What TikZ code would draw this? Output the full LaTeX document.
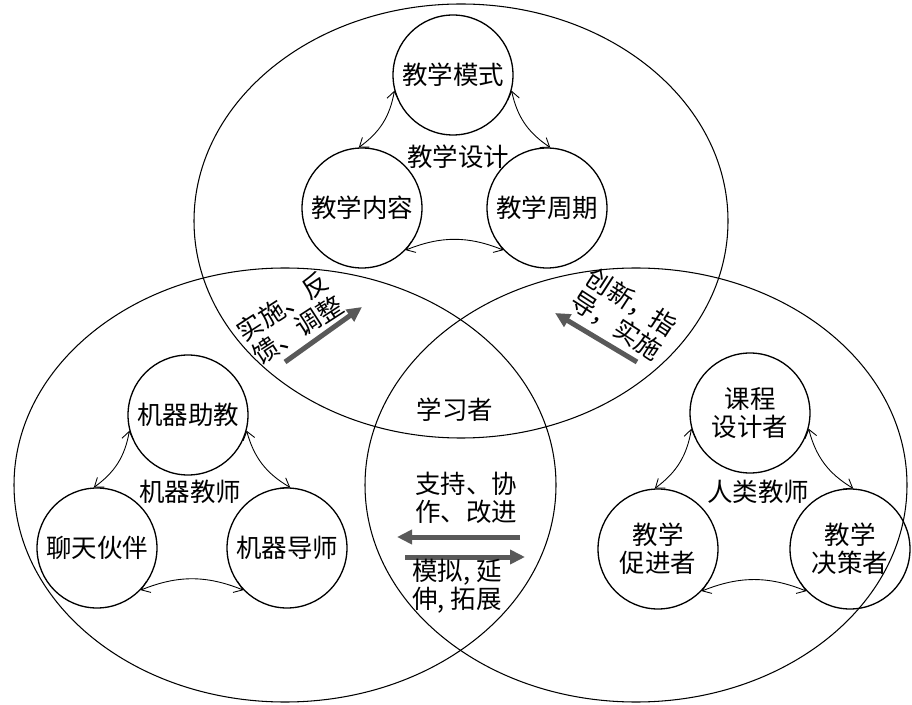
\documentclass[tikz,border=0pt]{standalone}
\usepackage{fontspec}
\newfontfamily\cjk{Noto Sans CJK SC}
\usetikzlibrary{arrows.meta}

\begin{document}
\begin{tikzpicture}[x=0.02cm,y=-0.02cm,
  font=\cjk\fontsize{14.5}{16}\selectfont,
  role/.style={draw,circle,line width=0.75pt,minimum size=2.4cm,inner sep=0pt,align=center},
  link/.style={{Straight Barb[length=1.6mm,width=2.4mm]}-{Straight Barb[length=1.6mm,width=2.4mm]},line width=0.5pt},
  flow/.style={-{Triangle[length=3mm,width=2.8mm]},line width=1mm,draw=black!65},
  note/.style={align=center,inner sep=0pt}]
\useasboundingbox (0,0) rectangle (912,705);
\draw[line width=0.6pt] (461,221) ellipse [x radius=267, y radius=217];
\draw[line width=0.6pt] (285,485) ellipse [x radius=271, y radius=217];
\draw[line width=0.6pt] (636,485) ellipse [x radius=271, y radius=217];

\node[role] (mode) at (453,75) {教学模式};
\node[role] (content) at (362,208) {教学内容};
\node[role] (period) at (547,208) {教学周期};
\node[note] (design) at (458,157) {教学设计};
\draw[link] (mode.195) to[bend left=22] (content.93);
\draw[link] (mode.345) to[bend right=22] (period.87);
\draw[link] (content.316) to[bend left=22] (period.224);

\node[role] (assist) at (188,415) {机器助教};
\node[role] (chat) at (97,548) {聊天伙伴};
\node[role] (tutor) at (287,548) {机器导师};
\node[note] (machine) at (190,492) {机器教师};
\draw[link] (assist.195) to[bend left=22] (chat.93);
\draw[link] (assist.345) to[bend right=22] (tutor.87);
\draw[link] (chat.316) to[bend left=22] (tutor.224);

\node[role] (course) at (750,413) {课程\\设计者};
\node[role] (facil) at (658,549) {教学\\促进者};
\node[role] (decide) at (850,549) {教学\\决策者};
\node[note] (human) at (758,492) {人类教师};
\draw[link] (course.195) to[bend left=22] (facil.93);
\draw[link] (course.345) to[bend right=22] (decide.87);
\draw[link] (facil.316) to[bend left=22] (decide.224);

\node[note] (learner) at (455,410) {学习者};

\coordinate (ls) at (285,362);
\coordinate (le) at (362,307);
\coordinate (rs) at (637,362);
\coordinate (re) at (555,313);
\coordinate (ms1) at (520,537);
\coordinate (me1) at (397,537);
\coordinate (ms2) at (405,557);
\coordinate (me2) at (525,557);
\draw[flow] (ls) -- (le);
\draw[flow] (rs) -- (re);
\draw[flow] (ms1) -- (me1);
\draw[flow] (ms2) -- (me2);
\node[note,rotate=33] (feedback) at (290,318) {实施、反\\馈、调整};
\node[note,rotate=-33] (guide) at (624,314) {创新，指\\导，实施};
\node[note] (support) at (466,498) {支持、协\\作、改进};
\node[note] (extend) at (457,586) {模拟, 延\\伸, 拓展};
\end{tikzpicture}
\end{document}
